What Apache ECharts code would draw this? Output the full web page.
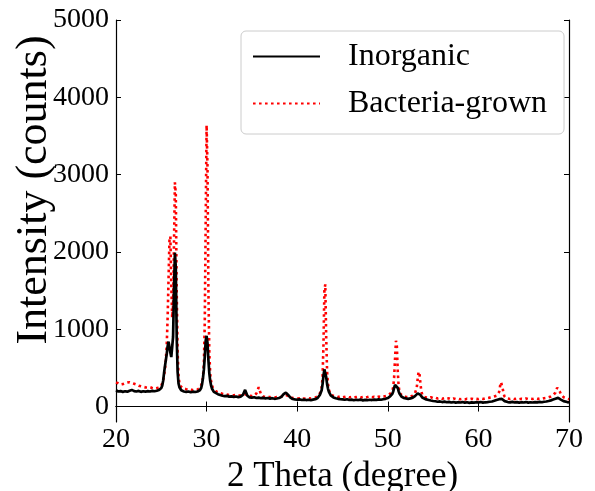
<!DOCTYPE html>
<html>
<head>
<meta charset="utf-8">
<script src="https://cdn.jsdelivr.net/npm/echarts@6/dist/echarts.min.js"></script>
<style>
html,body{margin:0;padding:0;background:#fff;}
#chart{width:595px;height:491px;}
</style>
</head>
<body>
<div id="chart"></div>
<script>
// 2-theta (degree) vs intensity (counts)
const xTicks = [20, 30, 40, 50, 60, 70];
const yTicks = [0, 1000, 2000, 3000, 4000, 5000];
const seriesNames = ['Inorganic', 'Bacteria-grown'];

const inorganic = [
[20,210],[20.25,195],[20.5,200],[20.75,190],[21,198],[21.25,192],[21.5,205],[21.75,215],[22,200],[22.25,195],[22.5,202],[22.75,190],[23,198],[23.25,192],[23.5,200],[23.75,195],[24,203],[24.25,198],[24.5,205],[24.75,215],[25,240],
[25.1,270],[25.2,330],[25.3,430],[25.4,520],[25.5,600],[25.6,680],[25.7,780],[25.8,840],[25.9,820],[26.0,700],[26.1,640],[26.2,660],[26.3,900],[26.4,1500],[26.5,1990],[26.6,1800],[26.7,900],[26.8,450],[26.9,300],[27.0,250],[27.1,225],[27.2,210],[27.3,205],[27.4,198],[27.5,195],
[27.75,190],[28,195],[28.25,185],[28.5,192],[28.75,188],[29,195],[29.25,210],
[29.4,240],[29.5,290],[29.6,370],[29.7,480],[29.8,650],[29.9,850],[30.0,915],[30.1,820],[30.2,600],[30.3,430],[30.4,330],[30.5,270],[30.6,230],[30.7,205],[30.8,190],
[31,170],[31.25,160],[31.5,150],[31.75,140],[32,135],[32.25,138],[32.5,128],[32.75,132],[33,125],[33.25,130],[33.5,122],[33.75,128],[34,150],[34.25,215],[34.5,140],[34.75,118],[35,115],[35.25,120],[35.5,110],[35.75,115],[36,108],[36.25,112],[36.5,105],[36.75,110],[37,102],[37.25,108],[37.5,100],[37.75,104],[38,110],[38.25,125],[38.5,160],[38.75,180],[39,150],[39.25,115],[39.5,98],[39.75,92],[40,88],[40.25,92],[40.5,85],[40.75,90],[41,84],[41.25,88],[41.5,82],[41.75,90],[42,95],[42.25,110],[42.5,150],
[42.6,170],[42.7,210],[42.8,290],[42.9,400],[43.0,480],[43.1,470],[43.2,380],[43.3,290],[43.4,230],[43.5,190],[43.6,165],[43.7,145],[43.8,130],
[44,118],[44.25,108],[44.5,100],[44.75,95],[45,92],[45.25,88],[45.5,95],[45.75,85],[46,90],[46.25,82],[46.5,88],[46.75,84],[47,90],[47.25,80],[47.5,86],[47.75,82],[48,88],[48.25,84],[48.5,90],[48.75,86],[49,92],[49.25,88],[49.5,95],[49.75,100],[50,110],[50.25,130],
[50.4,145],[50.5,165],[50.6,195],[50.7,240],[50.8,280],[50.9,295],[51.0,280],[51.1,240],[51.2,195],[51.3,165],[51.4,145],[51.5,130],[51.6,120],
[51.75,112],[52,105],[52.25,100],[52.5,105],[52.75,115],[53.0,135],
[53.1,145],[53.2,158],[53.3,170],[53.4,175],[53.5,168],[53.6,150],[53.7,132],[53.8,118],[53.9,108],
[54,100],[54.25,92],[54.5,85],[54.75,78],[55,72],[55.25,68],[55.5,62],[55.75,66],[56,58],[56.25,63],[56.5,55],[56.75,60],[57,52],[57.25,58],[57.5,50],[57.75,56],[58,52],[58.25,58],[58.5,50],[58.75,55],[59,48],[59.25,54],[59.5,50],[59.75,56],[60,52],[60.25,58],[60.5,50],[60.75,55],[61,58],[61.25,62],[61.5,65],[61.75,75],[62,85],
[62.2,90],[62.3,95],[62.4,100],[62.5,102],[62.6,98],[62.7,90],[62.8,80],[62.9,70],
[63,65],[63.25,58],[63.5,54],[63.75,60],[64,52],[64.25,57],[64.5,50],[64.75,56],[65,52],[65.25,58],[65.5,50],[65.75,55],[66,52],[66.25,58],[66.5,54],[66.75,60],[67,55],[67.25,62],[67.5,65],[67.75,72],[68,80],[68.25,90],
[68.4,95],[68.5,100],[68.6,105],[68.7,110],[68.8,112],[68.9,108],[69.0,100],[69.1,90],[69.2,80],
[69.4,70],[69.6,62],[69.8,58],[70,55]
];

const bacteriaGrown = [
[20,310],[20.25,300],[20.5,285],[20.75,290],[21,300],[21.25,310],[21.5,315],[21.75,305],[22,295],[22.25,285],[22.5,270],[22.75,262],[23,255],[23.25,248],[23.5,245],[23.75,250],[24,240],[24.25,232],[24.5,238],[24.75,245],[25,270],
[25.1,290],[25.2,330],[25.3,400],[25.4,480],[25.5,600],[25.6,800],[25.7,1150],[25.8,1650],[25.9,2150],[26.0,2200],[26.1,1600],[26.2,1150],[26.3,1300],[26.4,2100],[26.5,2900],[26.6,2750],[26.7,1500],[26.8,700],[26.9,400],[27.0,300],[27.1,265],[27.2,250],[27.3,240],[27.4,235],[27.5,230],
[27.75,225],[28,218],[28.25,222],[28.5,210],[28.75,215],[29,220],[29.25,240],
[29.4,260],[29.5,300],[29.6,380],[29.7,550],[29.8,1100],[29.9,2400],[30.0,3640],[30.1,3100],[30.2,1500],[30.3,700],[30.4,420],[30.5,320],[30.6,270],[30.7,240],[30.8,225],
[31,200],[31.25,185],[31.5,172],[31.75,165],[32,160],[32.25,155],[32.5,150],[32.75,148],[33,145],[33.25,150],[33.5,140],[33.75,145],[34,150],[34.25,160],[34.5,145],[34.75,138],[35,135],[35.25,140],[35.5,170],[35.75,250],[36,160],[36.25,130],[36.5,125],[36.75,128],[37,120],[37.25,125],[37.5,118],[37.75,122],[38,120],[38.25,128],[38.5,140],[38.75,150],[39,135],[39.25,118],[39.5,110],[39.75,108],[40,102],[40.25,108],[40.5,100],[40.75,105],[41,100],[41.25,106],[41.5,102],[41.75,110],[42,115],[42.25,130],[42.5,170],
[42.6,190],[42.7,240],[42.8,380],[42.9,800],[43.0,1500],[43.1,1580],[43.2,900],[43.3,450],[43.4,290],[43.5,220],[43.6,180],[43.7,160],[43.8,145],
[44,135],[44.25,128],[44.5,122],[44.75,130],[45,120],[45.25,125],[45.5,132],[45.75,118],[46,125],[46.25,115],[46.5,122],[46.75,128],[47,118],[47.25,124],[47.5,115],[47.75,122],[48,130],[48.25,120],[48.5,125],[48.75,118],[49,128],[49.25,122],[49.5,130],[49.75,135],[50,145],[50.25,165],
[50.4,175],[50.5,200],[50.6,250],[50.7,380],[50.8,620],[50.9,850],[51.0,780],[51.1,450],[51.2,260],[51.3,190],[51.4,160],[51.5,145],[51.6,135],
[51.75,130],[52,125],[52.25,122],[52.5,128],[52.75,140],[53.0,170],
[53.1,190],[53.2,250],[53.3,360],[53.4,450],[53.5,420],[53.6,300],[53.7,200],[53.8,155],[53.9,135],
[54,125],[54.25,118],[54.5,112],[54.75,120],[55,108],[55.25,115],[55.5,104],[55.75,112],[56,100],[56.25,108],[56.5,98],[56.75,106],[57,95],[57.25,104],[57.5,96],[57.75,102],[58,94],[58.25,100],[58.5,92],[58.75,100],[59,95],[59.25,102],[59.5,94],[59.75,100],[60,96],[60.25,104],[60.5,98],[60.75,106],[61,110],[61.25,115],[61.5,120],[61.75,130],[62,140],
[62.2,150],[62.3,190],[62.4,270],[62.5,315],[62.6,290],[62.7,220],[62.8,160],[62.9,125],
[63,112],[63.25,104],[63.5,98],[63.75,106],[64,96],[64.25,102],[64.5,94],[64.75,100],[65,96],[65.25,104],[65.5,95],[65.75,102],[66,98],[66.25,105],[66.5,97],[66.75,104],[67,100],[67.25,108],[67.5,112],[67.75,120],[68,130],[68.25,145],
[68.4,160],[68.5,180],[68.6,215],[68.7,245],[68.8,250],[68.9,225],[69.0,190],[69.1,160],[69.2,140],
[69.4,120],[69.6,108],[69.8,100],[70,95]
];

const FONT = 'Liberation Serif';
const chart = echarts.init(document.getElementById('chart'), null, {renderer: 'canvas'});

const axisLineStyle = {show: true, lineStyle: {color: '#000', width: 1.2}};
const tickStyle = {show: true, inside: true, length: 5, lineStyle: {color: '#000', width: 1}};
const plain = v => String(v);

chart.setOption({
  animation: false,
  backgroundColor: '#fff',
  grid: {left: 116, right: 26, top: 20, bottom: 69, containLabel: false, outerBoundsMode: 'none'},
  legend: {
    orient: 'vertical',
    left: 241, top: 31,
    padding: [7, 17, 12, 11],
    itemWidth: 67, itemHeight: 20,
    itemGap: 10,
    backgroundColor: 'rgba(255,255,255,0.85)',
    borderColor: '#cccccc', borderWidth: 1, borderRadius: 5,
    itemStyle: {opacity: 0, color: 'rgba(0,0,0,0)', borderWidth: 0},
    textStyle: {fontFamily: FONT, fontSize: 32, color: '#000', lineHeight: 37, padding: [0, 0, 0, 23]},
    data: seriesNames
  },
  xAxis: [
    {type: 'value', min: 20, max: 70, interval: 10, position: 'bottom',
     axisLine: axisLineStyle, axisTick: tickStyle, splitLine: {show: false},
     axisLabel: {fontFamily: FONT, fontSize: 28, color: '#000', margin: 4, formatter: plain},
     name: '2 Theta (degree)', nameLocation: 'middle', nameGap: 31,
     nameTextStyle: {fontFamily: FONT, fontSize: 35, color: '#000'}},
    {type: 'value', min: 20, max: 70, interval: 10, position: 'top',
     axisLine: axisLineStyle, axisTick: tickStyle, splitLine: {show: false},
     axisLabel: {show: false}}
  ],
  yAxis: [
    {type: 'value', min: -200, max: 5000, position: 'left',
     axisLine: axisLineStyle,
     axisTick: Object.assign({}, tickStyle, {customValues: yTicks}),
     splitLine: {show: false},
     axisLabel: {fontFamily: FONT, fontSize: 28, color: '#000', margin: 7, customValues: yTicks, formatter: plain}},
    {type: 'value', min: -200, max: 5000, position: 'right',
     axisLine: axisLineStyle,
     axisTick: Object.assign({}, tickStyle, {customValues: yTicks}),
     splitLine: {show: false},
     axisLabel: {show: false, customValues: yTicks}}
  ],
  graphic: [{
    type: 'text', x: 34, y: 190, rotation: Math.PI / 2,
    style: {text: 'Intensity (counts)', fontFamily: FONT, fontSize: 44, fill: '#000',
            textAlign: 'center', textVerticalAlign: 'middle'}
  }],
  series: [
    {name: seriesNames[0], type: 'line', xAxisIndex: 0, yAxisIndex: 0, data: inorganic,
     symbol: 'none', lineStyle: {color: '#000', width: 2.7}, itemStyle: {color: '#000'}, z: 3},
    {name: seriesNames[1], type: 'line', xAxisIndex: 0, yAxisIndex: 0, data: bacteriaGrown,
     symbol: 'none', lineStyle: {color: '#ff0000', width: 2.6, type: [2.6, 3.4]}, itemStyle: {color: '#ff0000'}, z: 2}
  ]
});
</script>
</body>
</html>
